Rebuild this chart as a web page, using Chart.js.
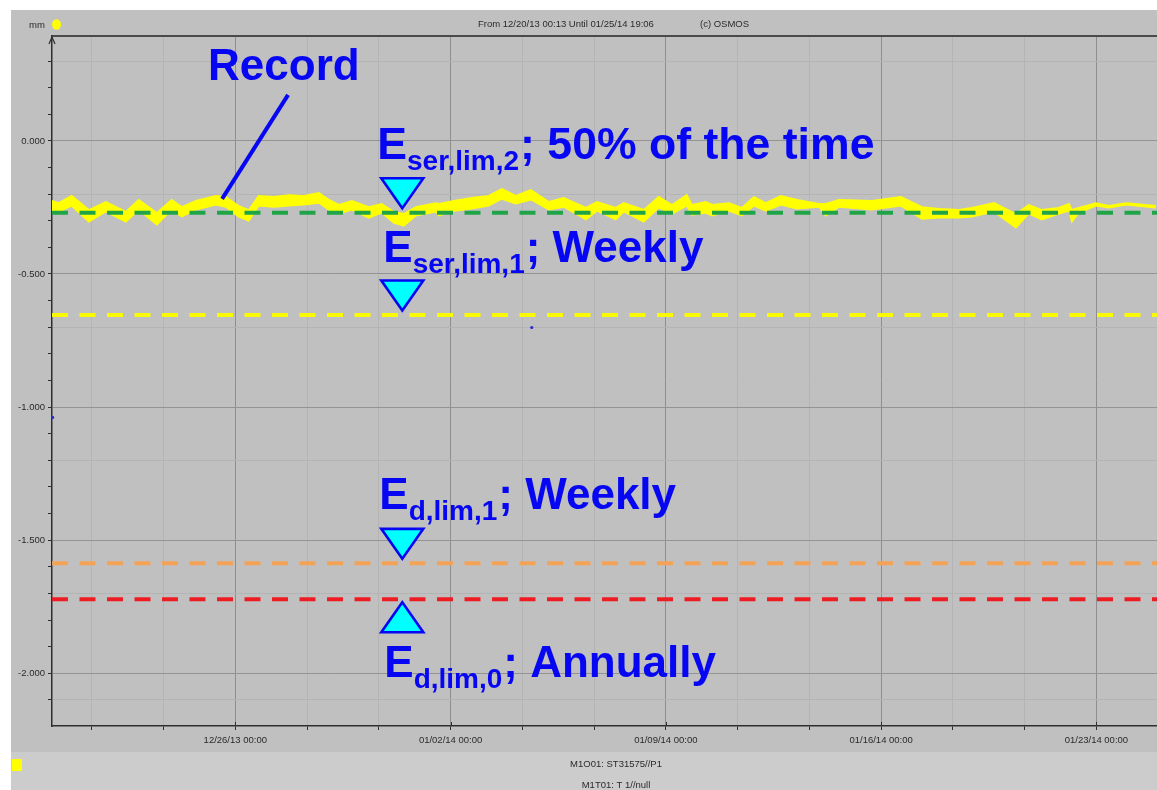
<!DOCTYPE html>
<html><head><meta charset="utf-8">
<script src="https://cdn.jsdelivr.net/npm/chart.js@4.4.1/dist/chart.umd.min.js"></script>
<style>html,body{margin:0;padding:0;background:#fff;overflow:hidden}#wrap{position:relative;width:1157px;height:790px;overflow:hidden}</style>
</head><body><div id="wrap"><canvas id="c" width="1161" height="790"></canvas></div>
<script>
// ---- data (days counted from 12/20/13 00:00, values in mm) ----
const xMajorDays = [6, 13, 20, 27, 34];
const xMajorLabels = ['12/26/13 00:00', '01/02/14 00:00', '01/09/14 00:00', '01/16/14 00:00', '01/23/14 00:00'];
const yMajorTicks = [0, -0.5, -1, -1.5, -2];
const yFaintGrid = [0.3, -0.2, -0.7, -1.2, -1.7, -2.1];
const recordDays = [0.03,0.26,0.68,1.24,1.79,2.44,2.86,3.45,3.93,4.26,4.72,5.37,5.69,6.11,6.44,6.76,7.25,7.74,8.23,8.72,9.04,9.37,9.79,10.34,10.76,11.15,11.48,11.87,12.52,12.62,13.11,13.69,14.24,14.67,15.12,15.61,16.20,16.68,17.40,17.76,18.37,18.63,19.28,19.77,20.20,20.68,20.85,21.30,21.50,22.05,22.47,22.86,23.25,23.74,24.26,24.98,25.20,25.63,26.70,27.64,28.33,28.88,29.53,29.95,30.67,31.38,31.80,32.23,32.78,33.11,33.20,33.43,33.98,34.41,34.96,35.93];
const recordHigh = [-0.225,-0.233,-0.206,-0.259,-0.229,-0.266,-0.221,-0.270,-0.221,-0.248,-0.225,-0.206,-0.210,-0.244,-0.259,-0.206,-0.210,-0.203,-0.206,-0.195,-0.221,-0.240,-0.225,-0.248,-0.236,-0.266,-0.274,-0.248,-0.233,-0.236,-0.225,-0.214,-0.206,-0.180,-0.206,-0.184,-0.229,-0.214,-0.251,-0.229,-0.251,-0.233,-0.259,-0.210,-0.240,-0.203,-0.240,-0.229,-0.240,-0.233,-0.251,-0.210,-0.233,-0.206,-0.221,-0.236,-0.236,-0.221,-0.225,-0.210,-0.248,-0.255,-0.259,-0.251,-0.233,-0.274,-0.240,-0.259,-0.251,-0.236,-0.259,-0.251,-0.233,-0.244,-0.233,-0.244];
const recordLow = [-0.270,-0.266,-0.244,-0.304,-0.266,-0.304,-0.259,-0.315,-0.259,-0.285,-0.259,-0.240,-0.248,-0.285,-0.300,-0.244,-0.248,-0.244,-0.240,-0.233,-0.259,-0.274,-0.259,-0.289,-0.270,-0.308,-0.319,-0.281,-0.266,-0.281,-0.263,-0.255,-0.244,-0.218,-0.236,-0.221,-0.259,-0.248,-0.296,-0.263,-0.296,-0.266,-0.304,-0.251,-0.274,-0.244,-0.278,-0.270,-0.281,-0.263,-0.281,-0.244,-0.263,-0.240,-0.255,-0.248,-0.281,-0.248,-0.259,-0.244,-0.293,-0.289,-0.289,-0.285,-0.266,-0.326,-0.274,-0.296,-0.274,-0.263,-0.304,-0.270,-0.244,-0.251,-0.240,-0.251];
const limitNames = ['E ser,lim,2', 'E ser,lim,1', 'E d,lim,1', 'E d,lim,0'];
const limitValues = [-0.270, -0.654, -1.587, -1.722];
const strayDays = [15.64, 0.06];
const strayValues = [-0.701, -1.039];
const markerDay = 11.43;

// ---- styles ----
const limitColors = ['#1fa548', '#fafa00', '#f4a256', '#ee1c22'];
const FONT = "'Liberation Sans', Arial, sans-serif";
const BLUE = '#0606f2';
const xMin = 0.04, xMax = 35.97, yMin = -2.198, yMax = 0.394;
const near = (a, b) => Math.abs(a - b) < 1e-6;

const labelDefs = [
  {sub: 'ser,lim,2', rest: '; 50% of the time', dx: -25, dy: -54, tri: 'down', fs: 44.6},
  {sub: 'ser,lim,1', rest: '; Weekly', dx: -19, dy: -53, tri: 'down', fs: 44},
  {sub: 'd,lim,1', rest: '; Weekly', dx: -23, dy: -54, tri: 'down', fs: 44},
  {sub: 'd,lim,0', rest: '; Annually', dx: -18, dy: 78, tri: 'up', fs: 44}
];

const decor = {
  id: 'decor',
  beforeDraw(chart) {
    const c = chart.ctx;
    c.save();
    c.fillStyle = '#ffffff'; c.fillRect(0, 0, 1161, 790);
    c.fillStyle = '#c0c0c0'; c.fillRect(11, 10, 1150, 742);
    c.fillStyle = '#cccccc'; c.fillRect(11, 752, 1150, 38);
    c.fillStyle = '#2a2a2a';
    c.font = '9.5px ' + FONT; c.textBaseline = 'middle'; c.textAlign = 'left';
    c.fillText('mm', 29, 25);
    c.fillText('From 12/20/13 00:13 Until 01/25/14 19:06', 478, 24);
    c.fillText('(c) OSMOS', 700, 24);
    c.textAlign = 'center';
    c.fillText('M1O01: ST31575//P1', 616, 764);
    c.fillText('M1T01: T 1//null', 616, 785);
    c.fillStyle = '#ffff00';
    c.beginPath(); c.ellipse(56.5, 24.5, 4.5, 5.2, 0, 0, Math.PI * 2); c.fill();
    c.fillRect(12, 759, 10, 12);
    c.restore();
  },
  afterDraw(chart) {
    const c = chart.ctx, a = chart.chartArea;
    const xs = chart.scales.x, ys = chart.scales.y;
    c.save();
    // top frame line
    c.strokeStyle = '#4a4a4a'; c.lineWidth = 2;
    c.beginPath(); c.moveTo(a.left, a.top); c.lineTo(a.right, a.top); c.stroke();
    // y axis arrow
    c.lineWidth = 1.2; c.strokeStyle = '#2e2e2e';
    c.beginPath(); c.moveTo(a.left - 3, a.top + 8); c.lineTo(a.left, a.top + 1); c.lineTo(a.left + 3, a.top + 8); c.stroke();
    // inner part of major x ticks
    c.lineWidth = 1;
    xMajorDays.forEach(d => { const px = Math.round(xs.getPixelForValue(d)) + 0.5; c.beginPath(); c.moveTo(px, a.bottom - 4); c.lineTo(px, a.bottom); c.stroke(); });
    // markers and labels
    const mx = xs.getPixelForValue(markerDay);
    labelDefs.forEach((L, i) => {
      const ly = ys.getPixelForValue(limitValues[i]);
      c.beginPath();
      if (L.tri === 'down') {
        const tip = ly - 4.5;
        c.moveTo(mx - 21, tip - 30); c.lineTo(mx + 21, tip - 30); c.lineTo(mx, tip);
      } else {
        const tip = ly + 3;
        c.moveTo(mx - 21, tip + 30); c.lineTo(mx + 21, tip + 30); c.lineTo(mx, tip);
      }
      c.closePath();
      c.fillStyle = '#00ffff'; c.fill();
      c.strokeStyle = BLUE; c.lineWidth = 2.6; c.lineJoin = 'miter'; c.stroke();
      // text
      const x0 = mx + L.dx, base = ly + L.dy;
      c.fillStyle = BLUE; c.textBaseline = 'alphabetic'; c.textAlign = 'left';
      c.font = 'bold ' + L.fs + 'px ' + FONT;
      c.fillText('E', x0, base);
      let x = x0 + c.measureText('E').width;
      c.font = 'bold 28px ' + FONT;
      c.fillText(L.sub, x, base + 11);
      x += c.measureText(L.sub).width;
      c.font = 'bold ' + L.fs + 'px ' + FONT;
      c.fillText(L.rest, x + 1, base);
    });
    // Record pointer
    const rx = xs.getPixelForValue(5.57), ry = ys.getPixelForValue(-0.218);
    c.strokeStyle = BLUE; c.lineWidth = 4; c.lineCap = 'butt';
    c.beginPath(); c.moveTo(rx, ry); c.lineTo(rx + 66, ry - 104); c.stroke();
    c.fillStyle = BLUE; c.font = 'bold 44px ' + FONT;
    c.fillText('Record', rx - 14, ry - 119);
    c.restore();
  }
};

const datasets = limitValues.map((v, i) => ({
  label: limitNames[i], data: [{x: xMin, y: v}, {x: xMax, y: v}],
  borderColor: limitColors[i], borderWidth: 4, borderDash: [16, 11.5], pointRadius: 0, fill: false, order: 0
}));
datasets.push({label: 'Record (upper)', data: recordDays.map((d, i) => ({x: d, y: recordHigh[i]})),
  borderColor: '#ffff00', borderWidth: 1.5, pointRadius: 0, fill: false, order: 1});
datasets.push({label: 'Record (lower)', data: recordDays.map((d, i) => ({x: d, y: recordLow[i]})),
  borderColor: '#ffff00', backgroundColor: '#ffff00', borderWidth: 1.5, pointRadius: 0, fill: '-1', order: 1});
datasets.push({label: 'stray', type: 'scatter', data: strayDays.map((d, i) => ({x: d, y: strayValues[i]})),
  pointRadius: 1.6, backgroundColor: '#2b2bd0', borderWidth: 0, order: -1, clip: false});

new Chart(document.getElementById('c'), {
  type: 'line',
  data: {datasets},
  plugins: [decor],
  options: {
    responsive: false, animation: false, devicePixelRatio: 1,
    layout: {padding: {left: 11, top: 36, right: 0, bottom: 38}},
    plugins: {legend: {display: false}, tooltip: {enabled: false}},
    elements: {line: {tension: 0}},
    scales: {
      x: {
        type: 'linear', min: xMin, max: xMax,
        afterFit(s) { s.height = 26; },
        afterBuildTicks(s) {
          const t = [];
          for (let k = -3; k < 40; k++) { const v = xMajorDays[0] + k * 7 / 3; if (v > xMax) break; if (v >= xMin) t.push({value: v}); }
          s.ticks = t;
        },
        ticks: {
          callback(v) { const i = xMajorDays.findIndex(d => near(d, v)); return i >= 0 ? xMajorLabels[i] : ''; },
          autoSkip: false, maxRotation: 0, minRotation: 0, padding: 5,
          font: {family: FONT, size: 9.5}, color: '#2a2a2a'
        },
        grid: {
          color(ctx) { if (!ctx.tick) return 'rgba(0,0,0,0)'; return xMajorDays.some(d => near(d, ctx.tick.value)) ? '#8e8e8e' : '#b4b4b4'; },
          lineWidth: 1, tickLength: 4, tickColor: '#2e2e2e', drawTicks: true
        },
        border: {display: true, color: '#2e2e2e', width: 1.5}
      },
      y: {
        type: 'linear', min: yMin, max: yMax,
        afterFit(s) { s.width = 41; },
        afterBuildTicks(s) { const t = []; for (let k = -21; k <= 3; k++) t.push({value: k / 10}); s.ticks = t; },
        ticks: {
          callback(v) { return yMajorTicks.some(m => near(m, v)) ? v.toFixed(3) : ''; },
          autoSkip: false, padding: 3,
          font: {family: FONT, size: 9.5}, color: '#2a2a2a'
        },
        grid: {
          color(ctx) {
            if (!ctx.tick) return 'rgba(0,0,0,0)';
            const v = ctx.tick.value;
            if (yMajorTicks.some(m => near(m, v))) return '#939393';
            if (yFaintGrid.some(m => near(m, v))) return '#b4b4b4';
            return 'rgba(0,0,0,0)';
          },
          lineWidth: 1, tickLength: 4, tickColor: '#2e2e2e', drawTicks: true
        },
        border: {display: true, color: '#2e2e2e', width: 1.5}
      }
    }
  }
});
</script></body></html>
